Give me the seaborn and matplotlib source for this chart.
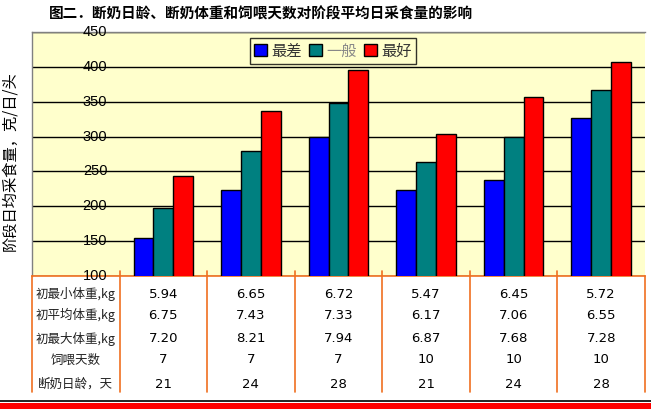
import matplotlib
matplotlib.use("Agg")
import matplotlib.pyplot as plt
import matplotlib.transforms as mtransforms
from matplotlib.patches import Rectangle
from matplotlib.lines import Line2D
import seaborn as sns
import pandas as pd

# ---- data ----
groups = ["G1", "G2", "G3", "G4", "G5", "G6"]
series_names = ["最差", "一般", "最好"]
worst = [155, 224, 299, 224, 237, 327]
average = [198, 279, 348, 264, 299, 367]
best = [243, 336, 396, 304, 357, 407]
yticks = [100, 150, 200, 250, 300, 350, 400, 450]

row_labels = ["初最小体重,kg", "初平均体重,kg", "初最大体重,kg", "饲喂天数", "断奶日龄，天"]
min_weight = ["5.94", "6.65", "6.72", "5.47", "6.45", "5.72"]
avg_weight = ["6.75", "7.43", "7.33", "6.17", "7.06", "6.55"]
max_weight = ["7.20", "8.21", "7.94", "6.87", "7.68", "7.28"]
feed_days = ["7", "7", "7", "10", "10", "10"]
wean_age = ["21", "24", "28", "21", "24", "28"]
table_rows = [min_weight, avg_weight, max_weight, feed_days, wean_age]

title = "图二．断奶日龄、断奶体重和饲喂天数对阶段平均日采食量的影响"
ylabel = "阶段日均采食量，克/日/头"
colors = ["#0000FF", "#008080", "#FF0000"]

df = pd.DataFrame({
    "group": groups * 3,
    "series": [s for s in series_names for _ in groups],
    "value": worst + average + best,
})

sns.set_theme(style="white")
plt.rcParams["font.family"] = ["Liberation Sans", "Noto Sans CJK SC", "DejaVu Sans"]
cjk = ["Noto Sans CJK SC", "DejaVu Sans"]

fig = plt.figure(figsize=(6.51, 4.09), dpi=100)
W, H = 651, 409
ax = fig.add_axes([32 / W, 1 - 276 / H, (645 - 32) / W, (276 - 32) / H])
ax.set_facecolor("#FFFFCC")

sns.barplot(data=df, x="group", y="value", hue="series", palette=colors,
            width=0.68, edgecolor="black", linewidth=1.0, ax=ax, zorder=3,
            saturation=1)

ax.set_xlim(-1.5, 5.5)
ax.set_ylim(100, 450)
ax.set_yticks(yticks)
ax.set_yticklabels([])
ax.tick_params(axis="y", length=0)
ax.set_xticks([])
ax.set_xlabel("")
ax.grid(axis="y", color="black", linewidth=1.0, zorder=1)
ax.set_axisbelow(True)

for s in ["top", "left"]:
    ax.spines[s].set_color("#808080")
    ax.spines[s].set_linewidth(1.0)
ax.spines["right"].set_visible(False)
ax.spines["bottom"].set_color("#F07020")
ax.spines["bottom"].set_linewidth(1.2)

# y tick labels inside first column
for v in yticks:
    ax.text(-0.78, v, str(v), ha="center", va="center", fontsize=10.5,
            color="black", zorder=5)

ax.set_ylabel(ylabel, fontsize=11, family=cjk, color="black")
ax.yaxis.set_label_coords(-0.023, 0.47)

# legend
handles = [Rectangle((0, 0), 1, 1, facecolor=c, edgecolor="black", linewidth=1)
           for c in colors]
leg = ax.legend(handles, series_names, loc="upper center",
                bbox_to_anchor=((333 - 32) / 613, (276 - 38) / 244),
                ncol=3, frameon=True, fancybox=False, fontsize=11,
                prop={"family": cjk, "size": 11},
                handlelength=0.8, handleheight=0.8, handletextpad=0.3,
                columnspacing=0.5, borderpad=0.3, borderaxespad=0)
leg.get_frame().set_edgecolor("black")
leg.get_frame().set_facecolor("#FFFFCC")
leg.get_frame().set_linewidth(1.0)
for t, c in zip(leg.get_texts(), ["#333333", "#888888", "#333333"]):
    t.set_color(c)

# table below axis
trans = mtransforms.blended_transform_factory(ax.transData, ax.transAxes)
row_y = [-0.074, -0.160, -0.258, -0.344, -0.443]
for lbl, vals, yy in zip(row_labels, table_rows, row_y):
    ax.text(-1.0, yy, lbl, transform=trans, ha="center", va="center",
            fontsize=9, family=cjk, color="#222222", clip_on=False)
    for i, v in enumerate(vals):
        ax.text(i, yy, v, transform=trans, ha="center", va="center",
                fontsize=9.5, color="black", clip_on=False,
                family=["DejaVu Sans"])

for xb in [-1.5, -0.5, 0.5, 1.5, 2.5, 3.5, 4.5, 5.5]:
    ax.add_line(Line2D([xb, xb], [-0.475, 0.0 if xb in (-1.5, 5.5) else 0.02],
                       transform=trans, color="#F07020", linewidth=1.2,
                       clip_on=False, zorder=6))

ax.set_title(title, fontsize=10.5, family=cjk, fontweight="bold",
             x=(261 - 32) / 613, y=1.0, pad=10, color="black")

# decorative bottom border
fig.add_artist(Line2D([0, 1], [1 - 401 / H, 1 - 401 / H], color="black",
                      linewidth=1.2, transform=fig.transFigure))
fig.add_artist(Rectangle((0, 0), 1, 6 / H, facecolor="#FF0000",
                         edgecolor="none", transform=fig.transFigure))

fig.savefig("out.png", dpi=100)
